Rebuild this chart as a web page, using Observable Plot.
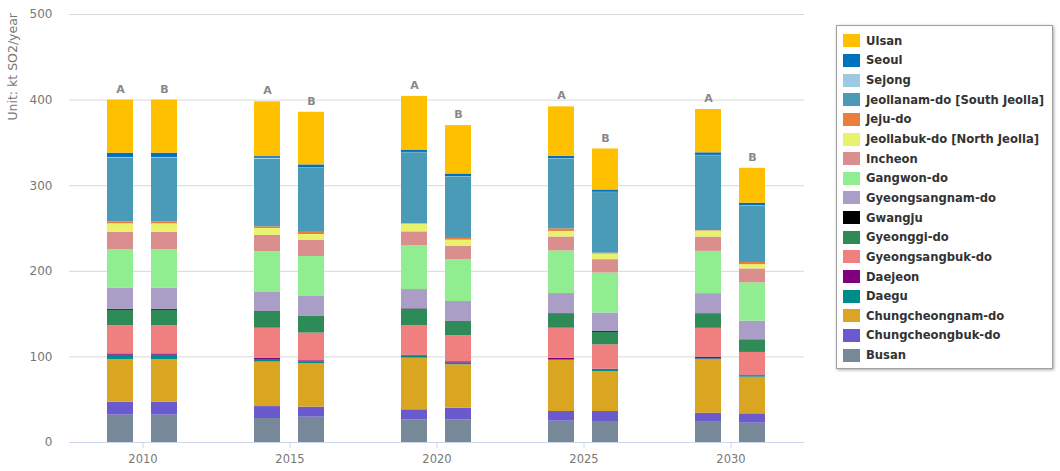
<!DOCTYPE html>
<html><head><meta charset="utf-8">
<script src="https://cdn.jsdelivr.net/npm/d3@7"></script>
<script src="https://cdn.jsdelivr.net/npm/@observablehq/plot@0.6"></script>
<style>
body{margin:0;background:#fff;font-family:"DejaVu Sans",Verdana,sans-serif;}
#wrap{position:relative;width:1060px;height:471px;overflow:hidden;}
#chart{position:absolute;left:0;top:0;}
#legend{position:absolute;left:836px;top:25px;width:217px;height:344px;border:1px solid #a0a0a0;box-shadow:1px 1px 3px rgba(0,0,0,0.35);background:#fff;box-sizing:border-box;padding-top:5px;}
.item{display:flex;align-items:center;height:19.65px;font-size:11.6px;font-weight:bold;color:#333;white-space:nowrap;}
.sw{width:17px;height:13px;margin-left:6px;margin-right:6px;flex:none;}
</style>
</head><body>
<div id="wrap"><div id="chart"></div><div id="legend"></div></div>
<script>
// Categories
const years = ["2010", "2015", "2020", "2025", "2030"];
const scenarios = ["A", "B"];
// stack order bottom -> top
const regions = ["Busan","Chungcheongbuk-do","Chungcheongnam-do","Daegu","Daejeon","Gyeongsangbuk-do","Gyeonggi-do","Gwangju","Gyeongsangnam-do","Gangwon-do","Incheon","Jeollabuk-do [North Jeolla]","Jeju-do","Jeollanam-do [South Jeolla]","Sejong","Seoul","Ulsan"];
const colors = ["#778899","#6a5acd","#daa520","#008b8b","#800080","#f08080","#2e8b57","#000000","#aa9dc6","#90ee90","#db8e8e","#e8f26c","#e8803c","#4a9bb7","#9ecae1","#0070c0","#ffc000"];

// Values in order: 2010A, 2010B, 2015A, 2015B, 2020A, 2020B, 2025A, 2025B, 2030A, 2030B (kt SO2/year)
const busan      = [32, 32, 28, 29.6, 26.5, 26.5, 24.9, 24.5, 23.7, 22.6];
const chungbuk   = [15, 15, 14, 11.7, 11.7, 13.6, 11.3, 11.7, 10.5, 10.9];
const chungnam   = [50, 50, 52, 50.7, 60.3, 50.7, 59.6, 46.7, 62.4, 42.8];
const daegu      = [5, 5, 3, 2, 2.5, 2, 0.7, 2.5, 1.2, 1.5];
const daejeon    = [1.5, 1.5, 1.5, 1.5, 1, 1.5, 2, 0.3, 1.8, 1];
const gyeongbuk  = [33, 33, 35, 32.3, 34.3, 30.4, 35, 28.4, 33.8, 26.4];
const gyeonggi   = [18, 18, 19, 19.5, 18.7, 16.4, 16.8, 14.4, 16.8, 14.5];
const gwangju    = [1, 1, 0.5, 0.3, 1, 0.3, 0.3, 1, 0.3, 0.3];
const gyeongnam  = [25, 25, 23, 23, 22.7, 23.3, 23.4, 21.8, 23.4, 21.7];
const gangwon    = [45, 45, 47, 46.7, 51.4, 48.7, 49.8, 46.7, 49.4, 44.8];
const incheon    = [20, 20, 19, 18.7, 16, 16, 16.3, 15.6, 16.7, 16.3];
const jeollabuk  = [10, 10, 8, 7, 9, 7, 6.5, 6.6, 7, 5];
const jeju       = [2, 2, 2, 2.5, 0.5, 2, 3, 1, 0.5, 2.5];
const jeollanam  = [75, 75, 79, 75, 83, 72, 81.8, 70.8, 87.6, 66.2];
const sejong     = [0.5, 0.5, 1, 0.3, 0.3, 0.3, 0.3, 0.3, 0.3, 0.3];
const seoul      = [5, 5, 2, 3.5, 2.7, 3, 2.7, 2.7, 3, 2.7];
const ulsan      = [62, 62, 64, 61.5, 62.7, 56.5, 57.7, 47.9, 50.6, 40.8];
const yTicks = [0, 100, 200, 300, 400, 500];

const series = [busan, chungbuk, chungnam, daegu, daejeon, gyeongbuk, gyeonggi, gwangju, gyeongnam, gangwon, incheon, jeollabuk, jeju, jeollanam, sejong, seoul, ulsan];

const table = [];
const totals = [];
years.forEach((yr, yi) => {
  scenarios.forEach((sc, si) => {
    const idx = yi * 2 + si;
    let t = 0;
    regions.forEach((r, ri) => {
      const v = series[ri][idx];
      t += v;
      table.push({year: yr, scenario: sc, region: r, value: v});
    });
    totals.push({year: yr, scenario: sc, total: t});
  });
});

const chart = Plot.plot({
  width: 830, height: 471,
  marginLeft: 68, marginRight: 25, marginTop: 14, marginBottom: 29,
  style: {fontFamily: "'DejaVu Sans', Verdana, sans-serif", fontSize: "11px", color: "#777", background: "#fff"},
  fx: {domain: years, padding: 0, label: null},
  x: {domain: scenarios, paddingInner: 0.4, paddingOuter: 0.844, axis: null},
  y: {domain: [0, 500], label: null},
  color: {domain: regions, range: colors},
  marks: [
    Plot.gridY(yTicks, {stroke: "#d8d8d8", strokeOpacity: 1}),
    Plot.axisY(yTicks, {tickSize: 0, tickPadding: 17, label: null, fill: "#777", fontSize: 12}),
    Plot.barY(table, {fx: "year", x: "scenario", y: "value", fill: "region"}),
    Plot.text(totals, {fx: "year", x: "scenario", y: "total", text: "scenario", dy: -11, fontWeight: "bold", fill: "#888", fontSize: 11}),
    Plot.ruleY([0], {stroke: "#ccd6eb", strokeOpacity: 1}),
    Plot.axisFx({anchor: "bottom", tickSize: 6, stroke: "#ccd6eb", strokeOpacity: 1, tickPadding: 6, label: null, fill: "#777", fontSize: 11.5})
  ]
});
document.getElementById("chart").appendChild(chart);

d3.select(chart).append("text")
  .attr("transform", "translate(13,13) rotate(-90)")
  .attr("text-anchor", "end")
  .attr("dy", "0.35em")
  .attr("fill", "#777")
  .style("font-size", "12.5px")
  .style("font-family", "'DejaVu Sans', Verdana, sans-serif")
  .text("Unit: kt SO2/year");

// Legend (top to bottom = reverse stack order)
const legend = d3.select("#legend");
regions.slice().reverse().forEach(r => {
  const i = regions.indexOf(r);
  const it = legend.append("div").attr("class", "item");
  it.append("div").attr("class", "sw").style("background", colors[i]);
  it.append("span").text(r);
});
</script>
</body></html>
